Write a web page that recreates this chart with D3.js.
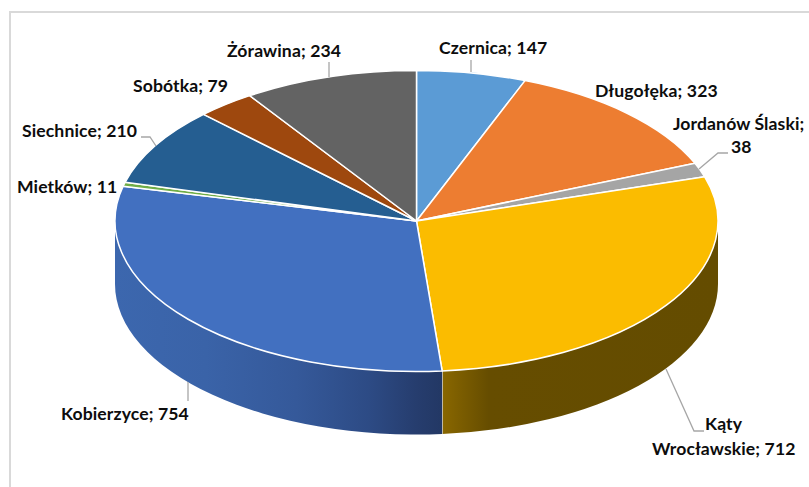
<!DOCTYPE html>
<html>
<head>
<meta charset="utf-8">
<script src="https://cdn.jsdelivr.net/npm/d3@7"></script>
<style>
html,body{margin:0;padding:0;background:#fff;overflow:hidden}
svg{display:block}
text{font-family:Lato,"Open Sans",sans-serif;font-weight:700;font-size:17.6px;letter-spacing:0.1px;fill:#0d0d0d}
</style>
</head>
<body>
<svg id="chart" width="809" height="487"></svg>
<script>
const categories = ["Czernica","Długołęka","Jordanów Ślaski","Kąty Wrocławskie","Kobierzyce","Mietków","Siechnice","Sobótka","Żórawina"];
const values = [147,323,38,712,754,11,210,79,234];
const colors = ["#5b9bd5","#ed7d31","#a5a5a5","#fbbc00","#4270c0","#70ad47","#255e91","#9e480e","#636363"];
const labelLines = [["Czernica; 147"],["Długołęka; 323"],["Jordanów Ślaski;","38"],["Kąty","Wrocławskie; 712"],["Kobierzyce; 754"],["Mietków; 11"],["Siechnice; 210"],["Sobótka; 79"],["Żórawina; 234"]];
// layout: [x of each line start, baseline of each line]
const labelX = [[439],[595],[673,731],[705,652],[61],[17],[22],[133],[227]];
const labelY = [[54],[97],[130,153],[430,455],[420],[193],[137],[92],[57]];
const leaders = [
  [[471,60],[471,72]],
  null,
  [[699,169],[718,153],[728,153]],
  [[666,369],[694,431],[704,431]],
  [[188,382],[188,401]],
  null,
  [[141,137],[150,137],[156,146]],
  null,
  [[329,62],[329,77]]
];

const cx = 416.5, cy = 221, rx = 301.5, ry = 150.5, depth = 63;
const svg = d3.select("#chart");
const defs = svg.append("defs");

svg.append("rect").attr("x",10).attr("y",12).attr("width",830).attr("height",520)
  .attr("fill","#fff").attr("stroke","#d9d9d9").attr("stroke-width",2);

const pie = d3.pie().sort(null).value(d=>d)(values);
const px = a => cx + rx*Math.sin(a);
const py = a => cy - ry*Math.cos(a);

// side wall gradients
function grad(id, stops){
  const g = defs.append("linearGradient").attr("id",id).attr("gradientUnits","userSpaceOnUse")
    .attr("x1",cx-rx).attr("x2",cx+rx).attr("y1",0).attr("y2",0);
  stops.forEach(s=>g.append("stop").attr("offset",s[0]).attr("stop-color",s[1]));
}
grad("g3",[[0.54,"#8a6800"],[0.575,"#7a5c00"],[0.62,"#664d00"],[1,"#644c00"]]);
grad("g4",[[0,"#3c67ae"],[0.15,"#3a63a8"],[0.3,"#35599a"],[0.42,"#2d4b85"],[0.5,"#263d6e"],[0.54,"#233865"]]);

// visible wall: the part of each slice between the right and left extremes
const lo = Math.PI/2, hi = 3*Math.PI/2;
pie.forEach((d,i)=>{
  const a0 = Math.max(d.startAngle, lo), a1 = Math.min(d.endAngle, hi);
  if (a1 <= a0) return;
  const p = `M${px(a0)},${py(a0)}`
    + `A${rx},${ry} 0 0 1 ${px(a1)},${py(a1)}`
    + `L${px(a1)},${py(a1)+depth}`
    + `A${rx},${ry} 0 0 0 ${px(a0)},${py(a0)+depth}Z`;
  svg.append("path").attr("d",p).attr("fill",`url(#g${i})`);
  // seam between walls
  if (d.endAngle < hi) {
    svg.append("line").attr("x1",px(a1)).attr("x2",px(a1))
      .attr("y1",py(a1)).attr("y2",py(a1)+depth)
      .attr("stroke","#fff").attr("stroke-width",1);
  }
});

// top face
const arc = d3.arc().innerRadius(0).outerRadius(rx);
svg.append("g").attr("transform",`translate(${cx},${cy}) scale(1,${ry/rx})`)
  .selectAll("path").data(pie).join("path")
  .attr("d",arc)
  .attr("fill",(d,i)=>colors[i])
  .attr("stroke","#fff").attr("stroke-width",1.5)
  .attr("vector-effect","non-scaling-stroke")
  .attr("stroke-linejoin","round");

// leader lines
const line = d3.line();
svg.append("g").selectAll("path").data(leaders.filter(Boolean)).join("path")
  .attr("d",line).attr("fill","none").attr("stroke","#a6a6a6").attr("stroke-width",1.3);

// labels
categories.forEach((c,i)=>{
  labelLines[i].forEach((t,j)=>{
    svg.append("text").attr("x",labelX[i][j]).attr("y",labelY[i][j]).text(t);
  });
});
</script>
</body>
</html>
